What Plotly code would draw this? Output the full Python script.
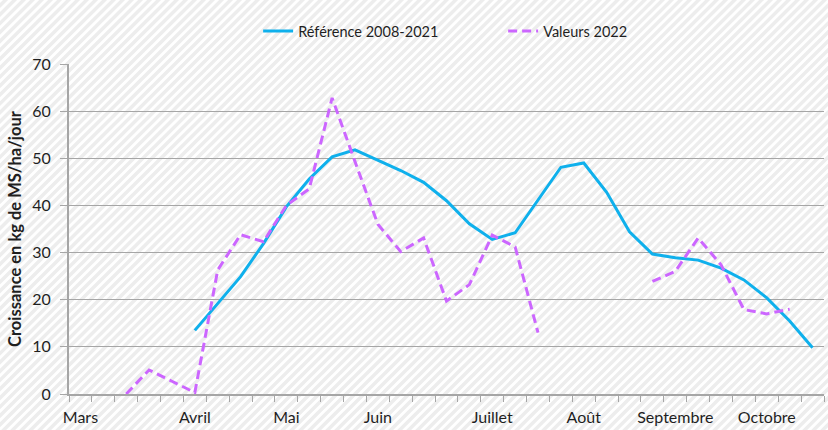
import plotly.graph_objects as go

# Weekly periods from early March to late October
weeks = list(range(33))
month_labels = ["Mars", "Avril", "Mai", "Juin", "Juillet", "Août", "Septembre", "Octobre"]
month_start_week = [0, 5, 9, 13, 18, 22, 26, 30]

# Grass growth, kg DM/ha/day
reference_2008_2021 = [None, None, None, None, None,
                       13.5, 19.2, 24.9, 31.9, 39.7, 45.6, 50.3, 51.8, 49.6, 47.4,
                       44.9, 41.0, 36.1, 32.8, 34.2, 41.2, 48.1, 49.0, 42.8, 34.4,
                       29.7, 28.9, 28.4, 26.7, 24.2, 20.4, 15.5, 9.8]
values_2022 = [None, None, 0.0, 5.1, 2.7, 0.3, 26.3, 33.8, 32.3, 40.0, 43.5,
               62.8, 49.3, 36.0, 30.2, 33.1, 19.7, 23.2, 33.7, 31.2, 13.0,
               None, None, None, None, 23.9, 26.0, 33.1, 27.4, 17.9, 17.0, 18.0, None]

W, H = 828, 430
L, R, T, B = 69, 4, 64, 33
pw, ph = W - L - R, H - T - B


def px_to_paper(px, py):
    return (px - L) / pw, (H - B - py) / ph


# Light upward-diagonal hatching behind the whole chart, as one path
segs = []
step = 9
start = -H
while start < W + step:
    x0, y0 = px_to_paper(start, H + 5)
    x1, y1 = px_to_paper(start + H + 10, -5)
    segs.append(f"M{x0:.5f},{y0:.5f}L{x1:.5f},{y1:.5f}")
    start += step
hatch_path = "".join(segs)

grid = "#a6a6a6"
text_col = "#1f1f1f"

fig = go.Figure()
fig.add_trace(go.Scatter(
    x=weeks, y=reference_2008_2021, mode="lines", name="Référence 2008-2021",
    line=dict(color="#0fb0ec", width=3), connectgaps=False,
))
fig.add_trace(go.Scatter(
    x=weeks, y=values_2022, mode="lines", name="Valeurs 2022",
    line=dict(color="#cc66ff", width=3, dash="9px,5px"), connectgaps=False,
))

fig.update_layout(
    width=W, height=H,
    margin=dict(l=L, r=R, t=T, b=B, pad=0),
    paper_bgcolor="white",
    plot_bgcolor="rgba(0,0,0,0)",
    font=dict(family="Lato, 'Open Sans', sans-serif", color=text_col, size=16),
    showlegend=True,
    legend=dict(
        orientation="h", x=0.575, xanchor="center", y=1.10, yanchor="middle",
        font=dict(size=14.5, color=text_col), bgcolor="rgba(0,0,0,0)",
        entrywidth=200, tracegroupgap=0,
    ),
    shapes=[dict(
        type="path", path=hatch_path, xref="paper", yref="paper",
        line=dict(color="#ededed", width=3.5), layer="below",
    )],
)

fig.update_xaxes(
    range=[-0.5, 32.5], showgrid=False, zeroline=False,
    showline=True, linecolor=grid, linewidth=2,
    tickmode="array", tickvals=month_start_week, ticktext=month_labels,
    ticks="", ticklabelstandoff=8, tickfont=dict(size=16, color=text_col),
    minor=dict(tickmode="linear", tick0=-0.5, dtick=1, ticks="outside",
               ticklen=6, tickwidth=1.3, tickcolor=grid, showgrid=False),
    fixedrange=True,
)
fig.update_yaxes(
    range=[0, 70], dtick=10, showgrid=True, gridcolor=grid, gridwidth=1.3,
    zeroline=False, showline=True, linecolor=grid, linewidth=2,
    ticks="outside", ticklen=7, tickwidth=1.3, tickcolor=grid,
    ticklabelstandoff=6, tickfont=dict(size=16, color=text_col),
    title=dict(text="<b>Croissance en kg de MS/ha/jour</b>",
               font=dict(size=16.5, color=text_col), standoff=6),
    fixedrange=True,
)

fig.write_html("out.html")
